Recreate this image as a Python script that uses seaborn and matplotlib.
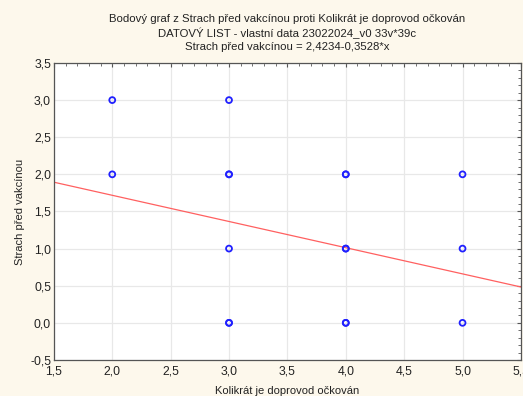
import matplotlib.pyplot as plt
import matplotlib.ticker as mticker
import seaborn as sns
import numpy as np
import pandas as pd

# values (duplicates make the bolder rings)
kolikrat = [2, 2, 3, 3, 3, 3, 3, 3, 4, 4, 4, 4, 4, 4, 5, 5, 5]
strach = [3, 2, 3, 2, 2, 1, 0, 0, 2, 2, 1, 1, 0, 0, 2, 1, 0]
intercept = 2.4234
slope = -0.3528

df = pd.DataFrame({"x": kolikrat, "y": strach})

sns.set_style("white")
plt.rcParams['font.family'] = ['Liberation Sans', 'DejaVu Sans']

bg = "#fdf8ec"
fig = plt.figure(figsize=(5.23, 3.96), dpi=100, facecolor=bg)
ax = fig.add_axes([0.103, 0.091, 0.893, 0.75])
ax.set_facecolor("white")

sns.scatterplot(data=df, x="x", y="y", ax=ax, marker="o", s=18,
                facecolors="none", edgecolor="#2020ff", linewidth=1.3, zorder=3)

xl = np.array([1.5, 5.5])
ax.plot(xl, intercept + slope * xl, color="#ff6060", lw=0.9, zorder=2)

ax.set_xlim(1.5, 5.5)
ax.set_ylim(-0.5, 3.5)
ax.xaxis.set_major_locator(mticker.MultipleLocator(0.5))
ax.yaxis.set_major_locator(mticker.MultipleLocator(0.5))
ax.xaxis.set_minor_locator(mticker.AutoMinorLocator(5))
ax.yaxis.set_minor_locator(mticker.AutoMinorLocator(5))
fmt = mticker.FuncFormatter(lambda v, p: f"{v:.1f}".replace(".", ","))
ax.xaxis.set_major_formatter(fmt)
ax.yaxis.set_major_formatter(fmt)
ax.tick_params(which="both", direction="in", top=True, right=True,
               color="#555555", labelsize=8.8, labelcolor="#222222", pad=2)
ax.tick_params(axis="x", which="major", pad=4)
ax.tick_params(which="major", length=3)
ax.tick_params(which="minor", length=2)
ax.grid(True, which="major", color="#e8e8e8", lw=0.9)
ax.set_axisbelow(True)
for s in ax.spines.values():
    s.set_color("#555555")
    s.set_linewidth(0.9)

ax.set_xlabel("Kolikrát je doprovod očkován", fontsize=8, color="#222222", labelpad=6)
ax.set_ylabel("Strach před vakcínou", fontsize=8, color="#222222", labelpad=4)
ax.set_title("Bodový graf z Strach před vakcínou proti Kolikrát je doprovod očkován\n"
             "DATOVÝ LIST - vlastní data 23022024_v0 33v*39c\n"
             "Strach před vakcínou = 2,4234-0,3528*x",
             fontsize=8.2, color="#222222", linespacing=1.38, pad=9)

fig.savefig("out.png", dpi=100, facecolor=bg)
